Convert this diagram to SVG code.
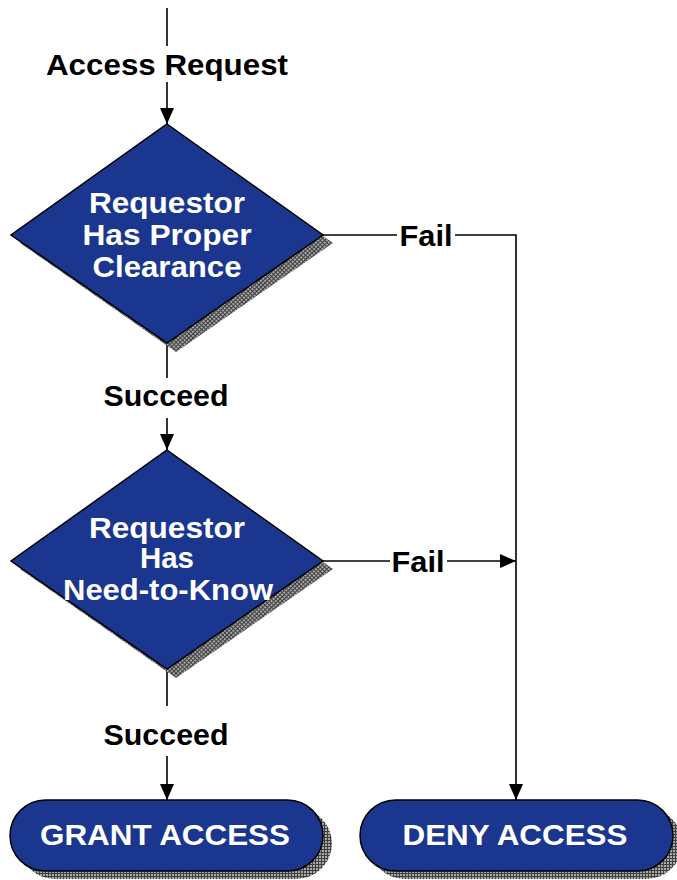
<svg xmlns="http://www.w3.org/2000/svg" width="677" height="880" viewBox="0 0 677 880">
  <style>
    .shape { fill: #1B368F; stroke: #000; stroke-width: 1.5; }
    .shadow { fill: url(#hatch); }
    .shadowD { fill: url(#hatchD); }
    .in { font-family: "Liberation Sans", Arial, sans-serif; font-weight: bold; font-size: 30px; fill: #fff; text-anchor: middle; }
    .lbl { font-family: "Liberation Sans", Arial, sans-serif; font-weight: bold; font-size: 30px; fill: #000; text-anchor: middle; }
    .wire { fill: none; stroke: #000; stroke-width: 1.6; }
  </style>
  <defs>
    <pattern id="hatch" width="3" height="3" patternUnits="userSpaceOnUse">
      <rect width="3" height="3" fill="#a8a8a8"/>
      <path d="M0 0.5H3M0.5 0V3" stroke="#404040" stroke-width="1"/>
    </pattern>
    <pattern id="hatchD" width="3" height="3" patternUnits="userSpaceOnUse" patternTransform="rotate(45)">
      <rect width="3" height="3" fill="#a8a8a8"/>
      <path d="M0 0.5H3M0.5 0V3" stroke="#404040" stroke-width="1"/>
    </pattern>
    <marker id="arrow" viewBox="0 0 16 14" refX="16" refY="7" markerWidth="16" markerHeight="14" markerUnits="userSpaceOnUse" orient="auto">
      <path d="M0 0L16 7L0 14Z" fill="#000"/>
    </marker>
  </defs>

  <g id="connectors">
    <!-- incoming request -->
    <path class="wire" d="M167 8V46"/>
    <path class="wire" d="M167 82V124" marker-end="url(#arrow)"/>
    <text class="lbl" x="167" y="75" textLength="242" lengthAdjust="spacingAndGlyphs">Access Request</text>
    <!-- clearance: succeed -->
    <path class="wire" d="M167 343V378"/>
    <path class="wire" d="M167 418V450" marker-end="url(#arrow)"/>
    <text class="lbl" x="166" y="406" textLength="125" lengthAdjust="spacingAndGlyphs">Succeed</text>
    <!-- clearance: fail -->
    <path class="wire" d="M323 235H397"/>
    <path class="wire" d="M455 235H516V800" marker-end="url(#arrow)"/>
    <text class="lbl" x="426" y="246" textLength="53" lengthAdjust="spacingAndGlyphs">Fail</text>
    <!-- need-to-know: succeed -->
    <path class="wire" d="M167 669V706"/>
    <path class="wire" d="M167 756V800" marker-end="url(#arrow)"/>
    <text class="lbl" x="166" y="745" textLength="125" lengthAdjust="spacingAndGlyphs">Succeed</text>
    <!-- need-to-know: fail -->
    <path class="wire" d="M323 561H390"/>
    <path class="wire" d="M447 561H516" marker-end="url(#arrow)"/>
    <text class="lbl" x="418" y="572" textLength="53" lengthAdjust="spacingAndGlyphs">Fail</text>
  </g>

  <g id="clearance">
    <polygon class="shadowD" points="176,132 333,243 176,352 20,243"/>
    <polygon class="shape" points="167,124 323,235 167,343 11,235"/>
    <text class="in" x="167" y="213" textLength="156" lengthAdjust="spacingAndGlyphs">Requestor</text>
    <text class="in" x="167" y="245" textLength="169" lengthAdjust="spacingAndGlyphs">Has Proper</text>
    <text class="in" x="167" y="277" textLength="149" lengthAdjust="spacingAndGlyphs">Clearance</text>
  </g>

  <g id="need-to-know">
    <polygon class="shadowD" points="176,458 333,569 176,678 20,569"/>
    <polygon class="shape" points="167,450 323,561 167,669 11,561"/>
    <text class="in" x="167" y="538" textLength="156" lengthAdjust="spacingAndGlyphs">Requestor</text>
    <text class="in" x="167" y="568" textLength="54" lengthAdjust="spacingAndGlyphs">Has</text>
    <text class="in" x="168" y="600" textLength="210" lengthAdjust="spacingAndGlyphs">Need-to-Know</text>
  </g>

  <g id="grant">
    <rect class="shadow" x="19" y="808" width="313" height="71" rx="35.5"/>
    <rect class="shape" x="10" y="800" width="313" height="71" rx="35.5"/>
    <text class="in" x="165" y="845" textLength="250" lengthAdjust="spacingAndGlyphs">GRANT ACCESS</text>
  </g>

  <g id="deny">
    <rect class="shadow" x="369" y="808" width="313" height="71" rx="35.5"/>
    <rect class="shape" x="360" y="800" width="313" height="71" rx="35.5"/>
    <text class="in" x="515" y="845" textLength="225" lengthAdjust="spacingAndGlyphs">DENY ACCESS</text>
  </g>
</svg>
